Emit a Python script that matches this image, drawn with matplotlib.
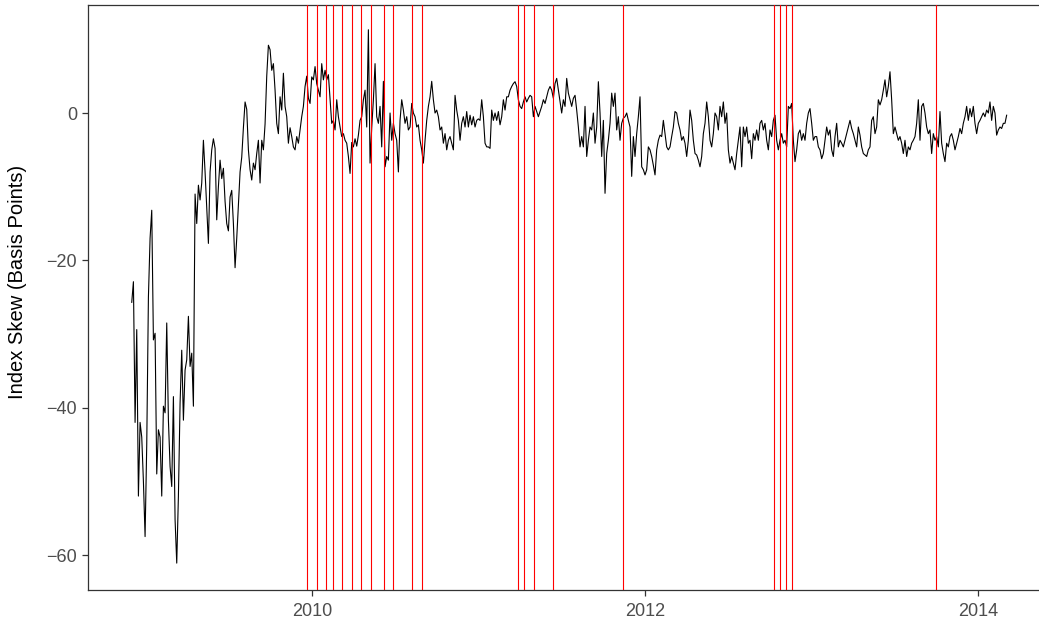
import matplotlib
matplotlib.use("Agg")
import matplotlib.pyplot as plt
import numpy as np
import pandas as pd

plt.rcParams['font.family'] = ['Liberation Sans', 'DejaVu Sans']

# ---- data (index skew, basis points) ----
skew_2009a = [
    -25.7, -22.9, -42.0, -29.4, -52.0, -42.0, -44.0, -50.0, -57.5, -45.0,
    -25.0, -17.0, -13.2, -30.8, -29.9, -49.0, -43.0, -44.0, -52.0, -39.8,
    -40.7, -28.5, -41.7, -48.0, -50.7, -38.5, -55.2, -61.1, -52.0, -39.4,
    -32.2, -41.7, -34.9, -33.5, -27.6, -34.4, -32.6, -39.8, -11.0, -15.0,
    -9.8, -11.8, -9.5, -3.7, -8.0, -13.0, -17.7, -8.0, -5.0, -3.5,
    -4.8, -14.5, -10.0, -6.4, -8.9, -7.5, -12.0, -15.0, -16.0, -11.4,
    -10.5, -15.0, -21.0, -17.0, -12.5, -8.0, -6.0, -2.0, 1.5, 0.5,
    -5.0, -7.7, -9.1, -6.8, -7.7, -5.5, -3.7, -9.5, -3.7, -5.0,
    -1.5, 5.0, 9.2, 8.6, 5.8, 6.7, 3.1, -1.4, -2.8, 2.2,
    0.4, 5.4, 0.9, -0.5, -4.1, -2.0, -3.2, -4.6, -5.0, -3.2,
    -4.1]
skew_2010 = [
    -2.3, -0.5, 0.9, 3.6, 5.0, 2.0, 1.3, 4.9, 4.5, 6.3,
    4.0, 3.1, 2.2, 6.7, 4.5, 5.8, 4.5, 5.2, 1.8, -1.4,
    -1.0, -2.3, 1.8, -0.5, -1.9, -3.2, -2.8, -3.7, -4.1, -5.9,
    -8.2, -4.0, -4.6, -3.5, -4.5, -3.0, -1.0, -0.5, 1.8, 3.1,
    -1.9, 11.3, -6.8, -2.0, 1.8, 6.7, -0.5, -1.4, 0.9, -4.6,
    4.3, -7.3, -5.9, -6.4, 0.0, -3.7, -1.4, -2.8, -3.7, -8.0,
    -1.0, 1.8, 0.4, -1.4, -0.5, -2.3, -1.9, 1.3, 0.0, -0.5,
    -1.9, -1.6, -3.7, -5.0, -6.8, -3.7, -1.0, 0.9, 2.2, 4.3,
    1.8, 0.0, 0.4, -0.5, -2.3, -1.9, -4.1, -2.8, -5.0, -3.7,
    -3.2]
skew_2011 = [
    -4.1, -5.0, 2.4, 0.4, -1.0, -3.7, -1.4, -0.5, -1.9, 0.2,
    -1.9, -0.3, -1.6, -0.5, -1.9, -1.0, -0.8, -1.0, 1.8, -0.5,
    -4.1, -4.6, -4.6, -4.8, 0.4, -1.0, 0.0, -1.0, 0.2, -1.6,
    -0.5, 1.8, 0.4, 2.2, 2.2, 3.1, 3.6, 4.0, 4.25, 3.6,
    1.8, 0.9, 0.6, 1.5, 2.2, 1.5, 2.0, 2.4, 2.2, -0.5,
    0.9, 0.2, -0.5, 0.2, 0.9, 1.8, 1.3, 2.2, 3.1, 3.6,
    3.1, 2.0, 4.0, 4.7, 3.1, 1.5, 0.0, 1.8, 0.9, 4.7,
    2.7, 1.8, 0.9, 2.0, 2.4, 0.4, -1.9, -4.6, -3.2, -4.6,
    0.9, -5.9, -3.7, -1.9]
skew_2012a = [
    -2.3, 0.0, -4.1, -1.9, 4.25, 0.0, -5.9, -1.0, -10.9, -5.5,
    -3.7, -1.4, 2.7, 0.9, 2.7, -2.3, -0.5, -3.7, -1.4, -0.7,
    -0.5, 0.0, -1.0, -1.9, -8.6, -3.2, -5.9, -2.8, -0.5, 2.2,
    -7.3, -7.7, -8.4, -7.7, -4.6, -5.0, -5.9, -7.1, -8.4, -5.0,
    -3.7, -3.0, -3.2, -1.0, -2.8, -4.6, -5.0, -4.6, -3.2, -1.9,
    0.2, 0.0, -1.4, -2.3, -3.7, -3.2, -4.1, -5.9, -3.7, 0.4,
    -1.0, -3.7, -5.5, -5.7, -6.4, -7.3, -5.9, -2.8, -1.4, 1.5,
    -0.5, -3.7, -4.6, -2.8, 0.0, -0.5, -2.3, 0.9, -0.5, 1.5,
    -1.4, 0.0, -5.0, -6.8]
skew_2012b = [
    -5.9, -6.8, -7.7, -5.5, -3.7, -1.9, -7.3, -1.9, -3.2, -1.9,
    -4.1, -3.7, -6.2, -2.8, -3.7, -2.3, -3.7, -1.4, -1.0, -2.3,
    -1.4, -3.7, -5.0, -2.3, -3.2, -1.0, -0.3, -3.7, -5.0, -3.7,
    -2.8, -4.1, -3.7, -4.6, 0.9, 0.6, 1.3, -3.7, -6.6, -5.0,
    -2.8, -2.3, -3.7, -2.8, -3.7, -1.4, 0.0, 0.6, -1.4, -3.7,
    -3.2, -3.2, -4.6, -5.0, -6.2, -5.5, -3.7, -1.9, -3.0, -2.3,
    -5.0, -5.9, -3.2, -1.4, -4.6, -3.7, -4.1, -4.6, -3.7, -2.8,
    -1.9, -1.0, -2.1, -2.8, -3.7, -4.6, -1.9, -3.0, -4.6, -5.5,
    -5.7, -5.9, -5.0, -4.6]
skew_2013 = [
    -1.0, -0.5, -2.8, -1.9, 1.8, 1.1, 1.8, 3.1, 4.5, 2.2,
    3.6, 5.6, 1.8, -2.8, -1.9, -2.8, -3.7, -3.2, -4.1, -5.5,
    -3.7, -5.9, -4.6, -5.0, -4.1, -3.7, -3.2, -1.4, 1.8, -3.7,
    0.9, 1.3, 0.0, -1.9, -2.8, -2.3, -5.5, -2.8, -3.7, -3.2,
    -4.6, 0.2, -4.1, -5.5, -6.6, -4.1, -4.6, -3.2, -2.8, -3.7,
    -5.0, -4.1, -3.2, -2.1, -2.8, -1.4, -0.5, 0.9, -1.0, 0.6,
    -0.5, 0.9, -1.4, -2.8, -1.4, -1.0, -0.5, 0.0, -0.5, 0.4,
    0.0, 1.5, -1.0, 0.9, 0.0, -3.0, -2.3, -1.9, -2.1, -1.4,
    -1.4, -0.3]

series_start = "2008-12-01"
series_end = "2014-03-05"

event_dates = [
    "2009-12-21", "2010-01-12", "2010-02-01", "2010-02-16", "2010-03-08",
    "2010-03-29", "2010-04-19", "2010-05-11", "2010-06-07", "2010-06-28",
    "2010-08-09", "2010-08-31", "2011-03-28", "2011-04-11", "2011-05-02",
    "2011-06-13", "2011-11-14", "2012-10-10", "2012-10-23", "2012-11-06",
    "2012-11-20", "2013-10-02"]

x_ticks = ["2010-01-01", "2012-01-01", "2014-01-01"]
x_tick_labels = ["2010", "2012", "2014"]
y_ticks = [-60, -40, -20, 0]
y_tick_labels = ["\u221260", "\u221240", "\u221220", "0"]
y_title = "Index Skew (Basis Points)"

# ---- build ----
skew = np.concatenate([skew_2009a, skew_2010, skew_2011, skew_2012a,
                       skew_2012b, skew_2013])
dates = pd.date_range(series_start, series_end, periods=len(skew))

W, H = 1039, 622
fig = plt.figure(figsize=(W / 100, H / 100), dpi=100)
left, right, top, bottom = 88, 1039, 4.5, 590
ax = fig.add_axes([left / W, (H - bottom) / H, (right - left) / W, (bottom - top) / H])

ax.plot(dates, skew, color="black", lw=0.8, zorder=2)
for d in pd.to_datetime(event_dates):
    ax.axvline(d, color="#FF0000", lw=0.8, zorder=3)

ax.set_xlim(pd.Timestamp("2008-08-27"), pd.Timestamp("2014-05-15"))
ax.set_ylim(-64.75, 14.73)

ax.set_xticks(pd.to_datetime(x_ticks))
ax.set_xticklabels(x_tick_labels)
ax.set_yticks(y_ticks)
ax.set_yticklabels(y_tick_labels)

for s in ["left", "bottom", "top"]:
    ax.spines[s].set_color("#333333")
    ax.spines[s].set_linewidth(0.9)
ax.spines["right"].set_visible(False)

ax.tick_params(axis="both", which="major", length=4, width=0.9,
               color="#333333", labelcolor="#4D4D4D", labelsize=13)
ax.tick_params(axis="x", pad=5)
ax.tick_params(axis="y", pad=4)

fig.text(18 / W, (H - 282) / H, y_title, rotation=90,
         ha="center", va="center", fontsize=14.5, color="black")

fig.savefig("out.png", dpi=100)
